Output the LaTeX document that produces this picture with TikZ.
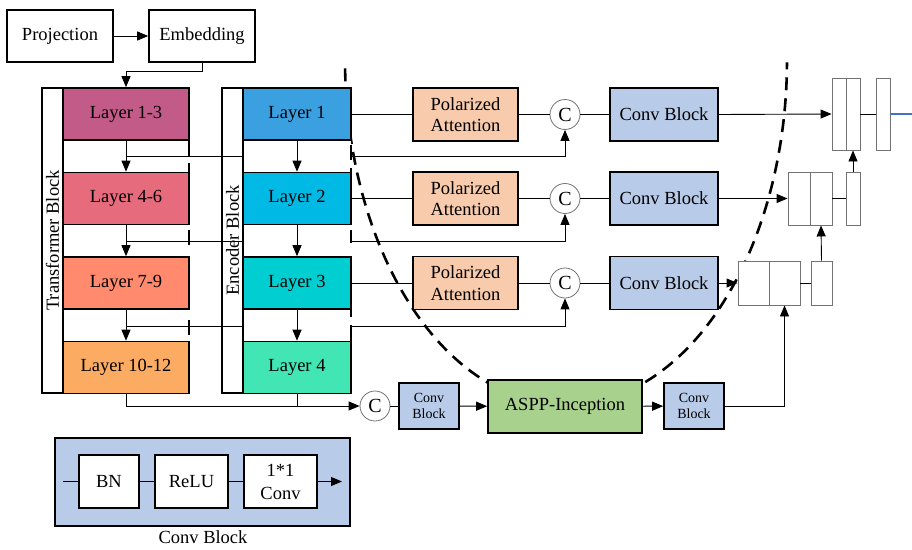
\documentclass[tikz,border=0pt]{standalone}
\usepackage{fontspec}
\setmainfont{Liberation Serif}
\usetikzlibrary{arrows.meta}
\definecolor{cTa}{RGB}{194,91,135}
\definecolor{cTb}{RGB}{230,108,125}
\definecolor{cTc}{RGB}{255,138,110}
\definecolor{cTd}{RGB}{252,172,98}
\definecolor{cEa}{RGB}{58,160,224}
\definecolor{cEb}{RGB}{0,185,228}
\definecolor{cEc}{RGB}{0,206,209}
\definecolor{cEd}{RGB}{66,230,180}
\definecolor{cPA}{RGB}{248,203,173}
\definecolor{cConv}{RGB}{184,203,232}
\definecolor{cAspp}{RGB}{169,209,142}
\definecolor{cOut}{RGB}{68,114,196}
\begin{document}
\begin{tikzpicture}[x=1pt,y=-1pt,
  txt/.style={font=\fontsize{18.5}{21.5}\selectfont},
  box/.style={draw=black, line width=1.6pt, inner sep=0pt, align=center, txt},
  tlay/.style={box, minimum width=126pt, minimum height=52pt},
  elay/.style={box, minimum width=108pt, minimum height=52pt},
  pabox/.style={box, fill=cPA, minimum width=105pt, minimum height=53pt},
  cvbox/.style={box, fill=cConv, minimum width=108pt, minimum height=53pt},
  smallcv/.style={box, fill=cConv, minimum width=60pt, minimum height=46pt, font=\fontsize{14}{16.5}\selectfont},
  cc/.style={circle, draw=black!55, line width=0.8pt, fill=white, minimum size=30pt, inner sep=0pt, font=\fontsize{20}{22}\selectfont},
  cat/.style={draw=black!55, line width=0.9pt, fill=white, inner sep=0pt},
  conn/.style={draw=black, line width=0.9pt},
  arr/.style={conn, -{Triangle[length=11pt,width=9pt]}},
  legbox/.style={box, fill=white, line width=1.2pt, minimum height=53pt}]
\useasboundingbox (0,0) rectangle (912,549);

% dashed U-shaped curve
\draw[line width=2.6pt, dash pattern=on 13pt off 8pt]
  plot[domain=181.4:359.6, samples=90, smooth] ({566+221*cos(\x)}, {60-345*sin(\x)});

% top boxes
\node[box, minimum width=106pt, minimum height=52pt] (proj) at (60,36) {Projection};
\node[box, minimum width=106pt, minimum height=52pt] (emb) at (202,36) {Embedding};

% transformer layers
\node[tlay, fill=cTa] (t1) at (126,114) {Layer 1-3};
\node[tlay, fill=cTb] (t2) at (126,198.5) {Layer 4-6};
\node[tlay, fill=cTc] (t3) at (126,283) {Layer 7-9};
\node[tlay, fill=cTd] (t4) at (126,367.5) {Layer 10-12};

% row nodes
\node[pabox] (pa1) at (465.5,114.5) {Polarized\\Attention};
\node[pabox] (pa2) at (465.5,198.5) {Polarized\\Attention};
\node[pabox] (pa3) at (465.5,283) {Polarized\\Attention};
\node[cc] (c1) at (565,114.5) {C};
\node[cc] (c2) at (565,198.5) {C};
\node[cc] (c3) at (565,283) {C};

% transformer features to concatenation (pass behind encoder block)
\draw[arr] (t1.south) ++(0,16) -| (c1.south);
\draw[arr] (t2.south) ++(0,16) -| (c2.south);
\draw[arr] (t3.south) ++(0,17) -| (c3.south);

% encoder block
\fill[white] (243,88) rectangle (351,393);
\draw[line width=1.6pt] (42,88) rectangle (63,393);
\draw[line width=1.6pt] (222,88) rectangle (243,393);
\node[txt, rotate=90] (tlab) at (52.5,240.5) {Transformer Block};
\node[txt, rotate=90] (elab) at (232.5,240.5) {Encoder Block};
\node[elay, fill=cEa] (e1) at (297,114) {Layer 1};
\node[elay, fill=cEb] (e2) at (297,198.5) {Layer 2};
\node[elay, fill=cEc] (e3) at (297,283) {Layer 3};
\node[elay, fill=cEd] (e4) at (297,367.5) {Layer 4};
\draw[line width=1.6pt] (189,140)--(189,156) (189,163)--(189,172) (189,230)--(189,245) (189,320)--(189,335)
  (351,145)--(351,160) (351,168)--(351,173) (351,230)--(351,243) (351,308)--(351,317) (351,325)--(351,342);

% conv blocks and right side fusion
\node[cvbox] (cv1) at (664,114.5) {Conv Block};
\node[cvbox] (cv2) at (664,198.5) {Conv Block};
\node[cvbox] (cv3) at (664,283) {Conv Block};

\node[cat, minimum width=14pt, minimum height=72pt] (k1a) at (839,114) {};
\node[cat, minimum width=14pt, minimum height=72pt] (k1b) at (853,114) {};
\node[cat, minimum width=14pt, minimum height=72pt] (s1) at (883,114) {};
\node[cat, minimum width=22pt, minimum height=53pt] (k2a) at (799,198.5) {};
\node[cat, minimum width=22pt, minimum height=53pt] (k2b) at (821,198.5) {};
\node[cat, minimum width=14pt, minimum height=53pt] (s2) at (853,198.5) {};
\node[cat, minimum width=31pt, minimum height=44pt] (k3a) at (753.5,283) {};
\node[cat, minimum width=31pt, minimum height=44pt] (k3b) at (784.5,283) {};
\node[cat, minimum width=21pt, minimum height=44pt] (s3) at (821.5,283) {};
\coordinate (out) at (912,114);

% bottom row
\node[cc] (cb) at (375,406) {C};
\node[smallcv] (cbk1) at (429,406) {Conv\\Block};
\node[box, fill=cAspp, minimum width=154pt, minimum height=53pt] (aspp) at (565,406.5) {ASPP-Inception};
\node[smallcv] (cbk2) at (694,406) {Conv\\Block};

% connectors
\draw[arr] (proj) -- (emb);
\draw[arr] (emb.south) -- ++(0,9) -| (t1.north);
\draw[arr] (t1) -- (t2);
\draw[arr] (t2) -- (t3);
\draw[arr] (t3) -- (t4);
\draw[arr] (e1) -- (e2);
\draw[arr] (e2) -- (e3);
\draw[arr] (e3) -- (e4);
\foreach \i in {1,2,3}{
  \draw[conn] (e\i.east |- pa\i.west) -- (pa\i.west);
  \draw[conn] (pa\i) -- (c\i);
  \draw[conn] (c\i) -- (cv\i);
}
\draw[arr] (cv1.east) -- (k1a.west);
\draw[arr] (cv2.east) -- (k2a.west);
\draw[arr] (cv3.east) -- (k3a.west);
\draw[conn] (k1b) -- (s1);
\draw[conn] (k2b) -- (s2);
\draw[conn] (k3b) -- (s3);
\draw[arr] (s2.north) -- (k1b.south);
\draw[arr] (s3.north) -- (k2b.south);
\draw[draw=cOut, line width=1.4pt] (s1.east) -- (out);
\draw[arr] (t4.south) |- (cb.west);
\draw[conn] (e4.south) -- (e4.south |- cb.west);
\draw[conn] (cb) -- (cbk1);
\draw[arr] (cbk1) -- (aspp);
\draw[arr] (aspp) -- (cbk2);
\draw[arr] (cbk2.east) -| (k3b.south);

% legend
\node[draw=black, line width=1.2pt, fill=cConv, minimum width=295pt, minimum height=88pt, inner sep=0pt] (leg) at (202.5,482) {};
\node[legbox, minimum width=60pt] (bn) at (109,481.5) {BN};
\node[legbox, minimum width=73pt] (relu) at (191.5,481.5) {ReLU};
\node[legbox, minimum width=73pt, font=\fontsize{18.5}{23}\selectfont] (conv) at (280.5,481.5) {1*1\\Conv};
\coordinate (lin) at (63,481.5);
\coordinate (lout) at (342,481.5);
\draw[conn] (lin) -- (bn);
\draw[conn] (bn) -- (relu);
\draw[conn] (relu) -- (conv);
\draw[arr] (conv) -- (lout);
\node[txt] (legl) at (203,537) {Conv Block};
\end{tikzpicture}
\end{document}
